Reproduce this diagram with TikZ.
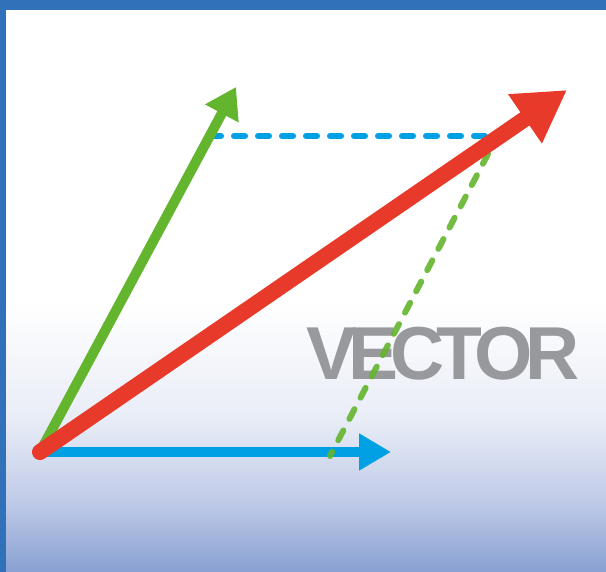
\documentclass[tikz,border=0pt]{standalone}
\usepackage{fontspec}
\usepackage{tikz}
\usetikzlibrary{arrows.meta,calc}
\newfontfamily\titlefont{Liberation Sans}[BoldFont={Liberation Sans Bold}]
\definecolor{frame}{RGB}{48,113,186}
\definecolor{leaf}{RGB}{100,181,46}
\definecolor{sky}{RGB}{0,160,228}
\definecolor{brick}{RGB}{232,58,42}
\definecolor{steel}{RGB}{152,153,156}
\definecolor{bgbot}{RGB}{136,160,210}
\definecolor{bglow}{RGB}{192,203,232}
\definecolor{bgmid}{RGB}{232,236,246}
\pgfdeclareverticalshading{bgfade}{100bp}{color(0bp)=(bgbot); color(25bp)=(bgbot);
  color(31.4bp)=(bglow); color(38.5bp)=(bgmid); color(49bp)=(white); color(100bp)=(white)}
\tikzset{
  vec/.style={line cap=round},
  guide/.style={line width=6pt,line cap=round,dash pattern=on 11pt off 13pt}
}

\begin{document}
\begin{tikzpicture}[x=1pt,y=-1pt]
  \useasboundingbox (0,0) rectangle (606,572);
  % frame and background
  \fill[frame] (0,0) rectangle (606,572);
  \shade[shading=bgfade] (6,11) rectangle (606,572);
  % points
  \coordinate (orig) at (40,452);
  \coordinate (gtip) at (236,87);
  \coordinate (btip) at (391,452);
  \coordinate (rtip) at (567,90);
  \coordinate (hl) at (210,136);
  \coordinate (hr) at (490,136);
  \coordinate (st) at (488,154);
  \coordinate (sb) at (330,456);
  % guides
  \draw[guide,sky] (hl) -- (hr);
  \node[anchor=base,inner sep=0pt,text=steel,font=\titlefont\bfseries\fontsize{75}{75}\selectfont]
    (word) at (443,380) {V\kern-8pt E\kern-8pt C\kern-8pt T\kern-8pt O\kern-8pt R};
  % vectors
  \draw[vec,leaf,line width=10pt,-{Triangle[length=30pt,width=36pt]}] (orig) -- (gtip);
  \draw[vec,sky,line width=10pt,-{Triangle[length=32pt,width=35pt]}] (orig) -- (btip);
  \draw[guide,leaf,opacity=0.9] (st) -- (sb);
  \draw[vec,brick,line width=16pt,-{Triangle[length=51pt,width=56pt]}] (orig) -- (rtip);
\end{tikzpicture}
\end{document}
